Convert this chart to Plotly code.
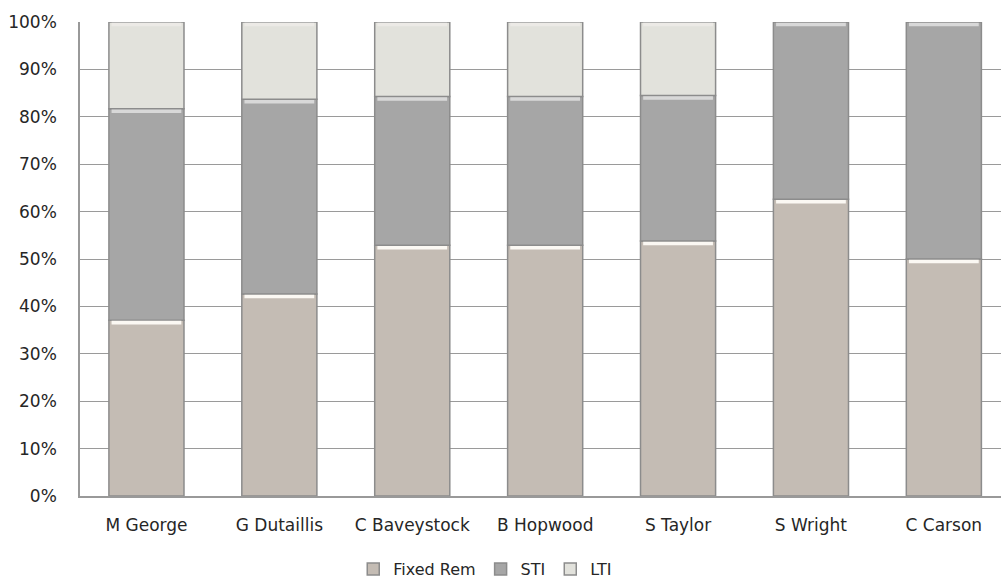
import plotly.graph_objects as go

categories = ["M George", "G Dutaillis", "C Baveystock", "B Hopwood", "S Taylor", "S Wright", "C Carson"]
fixed_rem = [37.1, 42.6, 52.9, 52.9, 53.8, 62.6, 50.0]
sti = [44.6, 41.1, 31.4, 31.4, 30.7, 37.4, 50.0]
lti = [18.3, 16.3, 15.7, 15.7, 15.5, 0.0, 0.0]
y_ticks = [0, 10, 20, 30, 40, 50, 60, 70, 80, 90, 100]

series = [
    ("Fixed Rem", fixed_rem, "#c4bcb4", "#fbf8f3"),
    ("STI", sti, "#a6a6a6", "#d8d8d8"),
    ("LTI", lti, "#e2e2dc", "#eceae6"),
]

BAR_W = 0.565
HL = 0.75  # highlight band height (percent units)

fig = go.Figure()
cum = [0.0] * len(categories)
for name, vals, color, _ in series:
    fig.add_trace(go.Bar(
        x=categories, y=vals, base=cum, name=name,
        marker=dict(color=color, line=dict(color="#8c8c8c", width=1.5)),
        width=BAR_W,
    ))
    cum = [c + v for c, v in zip(cum, vals)]

# bevel-like highlight at the top of each segment (derived from the data)
cum = [0.0] * len(categories)
for name, vals, color, hl in series:
    tops = [c + v for c, v in zip(cum, vals)]
    hx, hb, hy = [], [], []
    for cat, v, t in zip(categories, vals, tops):
        if v > 0:
            hx.append(cat)
            hb.append(t - HL - 0.15)
            hy.append(HL)
    fig.add_trace(go.Bar(
        x=hx, y=hy, base=hb, width=BAR_W - 0.04,
        marker=dict(color=hl, line=dict(width=0)),
        showlegend=False, hoverinfo="skip",
    ))
    cum = tops

font = "DejaVu Sans, sans-serif"
fig.update_layout(
    barmode="overlay",
    width=1001, height=578,
    margin=dict(l=80, r=0, t=22, b=82, autoexpand=False),
    plot_bgcolor="white", paper_bgcolor="white",
    font=dict(family=font, size=16, color="#262626"),
    showlegend=True,
    legend=dict(orientation="h", x=0.44, xanchor="center", y=-0.154, yanchor="middle",
                font=dict(size=16, color="#262626"), itemwidth=30, traceorder="normal"),
    xaxis=dict(range=[-0.5, 6.43], showline=True, linecolor="#999999", linewidth=1.5,
               showgrid=False, ticks="outside", ticklen=13, tickcolor="rgba(0,0,0,0)",
               tickfont=dict(size=17)),
    yaxis=dict(range=[0, 100], tickvals=y_ticks, ticktext=[f"{v}%" for v in y_ticks],
               showline=True, linecolor="#999999", linewidth=1.5,
               showgrid=True, gridcolor="#9a9a9a", gridwidth=1.3, zeroline=False,
               ticks="outside", ticklen=18, tickcolor="rgba(0,0,0,0)",
               tickfont=dict(size=17)),
)

fig.write_html("out.html")
